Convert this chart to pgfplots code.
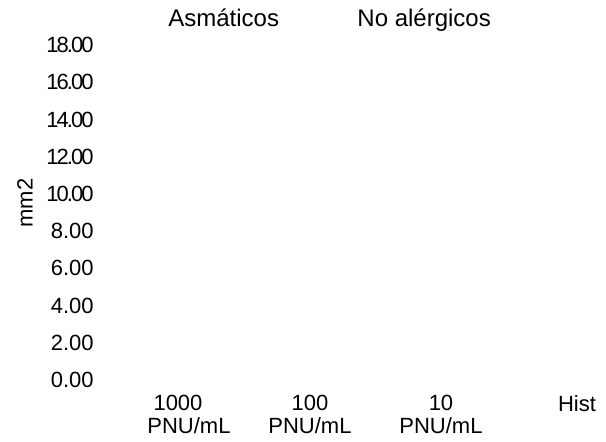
\documentclass[border=0pt]{standalone}
\usepackage{pgfplots}
\pgfplotsset{compat=1.18}
\usepackage{fontspec}
\setmainfont{Liberation Sans}
% tightly spaced face for the two-digit labels, as in the original
\newfontfamily\narrow[LetterSpace=-9]{Liberation Sans}
\newcommand\sq[1]{{\narrow #1}}
\begin{document}
\begin{tikzpicture}
  \begin{axis}[
    scale only axis,
    width=250pt, height=167.5pt,
    xmin=100, xmax=600,
    ymin=0, ymax=18,
    clip=false,
    axis line style={draw=none},
    major tick style={draw=none},
    xtick={189,310,441,577},
    xticklabels={1000\hspace*{11pt}\\[1.2pt]PNU/mL, 100\\[1.2pt]PNU/mL, 10\\[1.2pt]PNU/mL, Hist},
    xticklabel style={anchor=north, inner sep=0pt, yshift=-7.5pt, align=center,
      font=\fontsize{11}{10}\selectfont},
    ytick={0,2,...,18},
    yticklabels={0.00,2.00,4.00,6.00,8.00,\sq{10.00},\sq{12.00},\sq{14.00},\sq{16.00},\sq{18.00}},
    yticklabel style={anchor=east, inner sep=0pt, xshift=-3pt, font=\fontsize{11}{13}\selectfont},
    ylabel={mm2},
    ylabel style={at={(axis cs:25,9.51)}, anchor=center, inner sep=0pt,
      font=\fontsize{11}{13}\selectfont},
    legend columns=2,
    legend style={draw=none, fill=none, inner sep=0pt,
      at={(axis cs:168,19.95)}, anchor=north west,
      font=\fontsize{12}{14}\selectfont,
      nodes={inner sep=0pt},
      /tikz/every even column/.append style={column sep=39.2pt}},
  ]
    \addlegendimage{empty legend}
    \addlegendentry{Asmáticos}
    \addlegendimage{empty legend}
    \addlegendentry{No alérgicos}
    \path (axis cs:0,-3.278) rectangle (axis cs:606,20.418);
  \end{axis}
\end{tikzpicture}
\end{document}
